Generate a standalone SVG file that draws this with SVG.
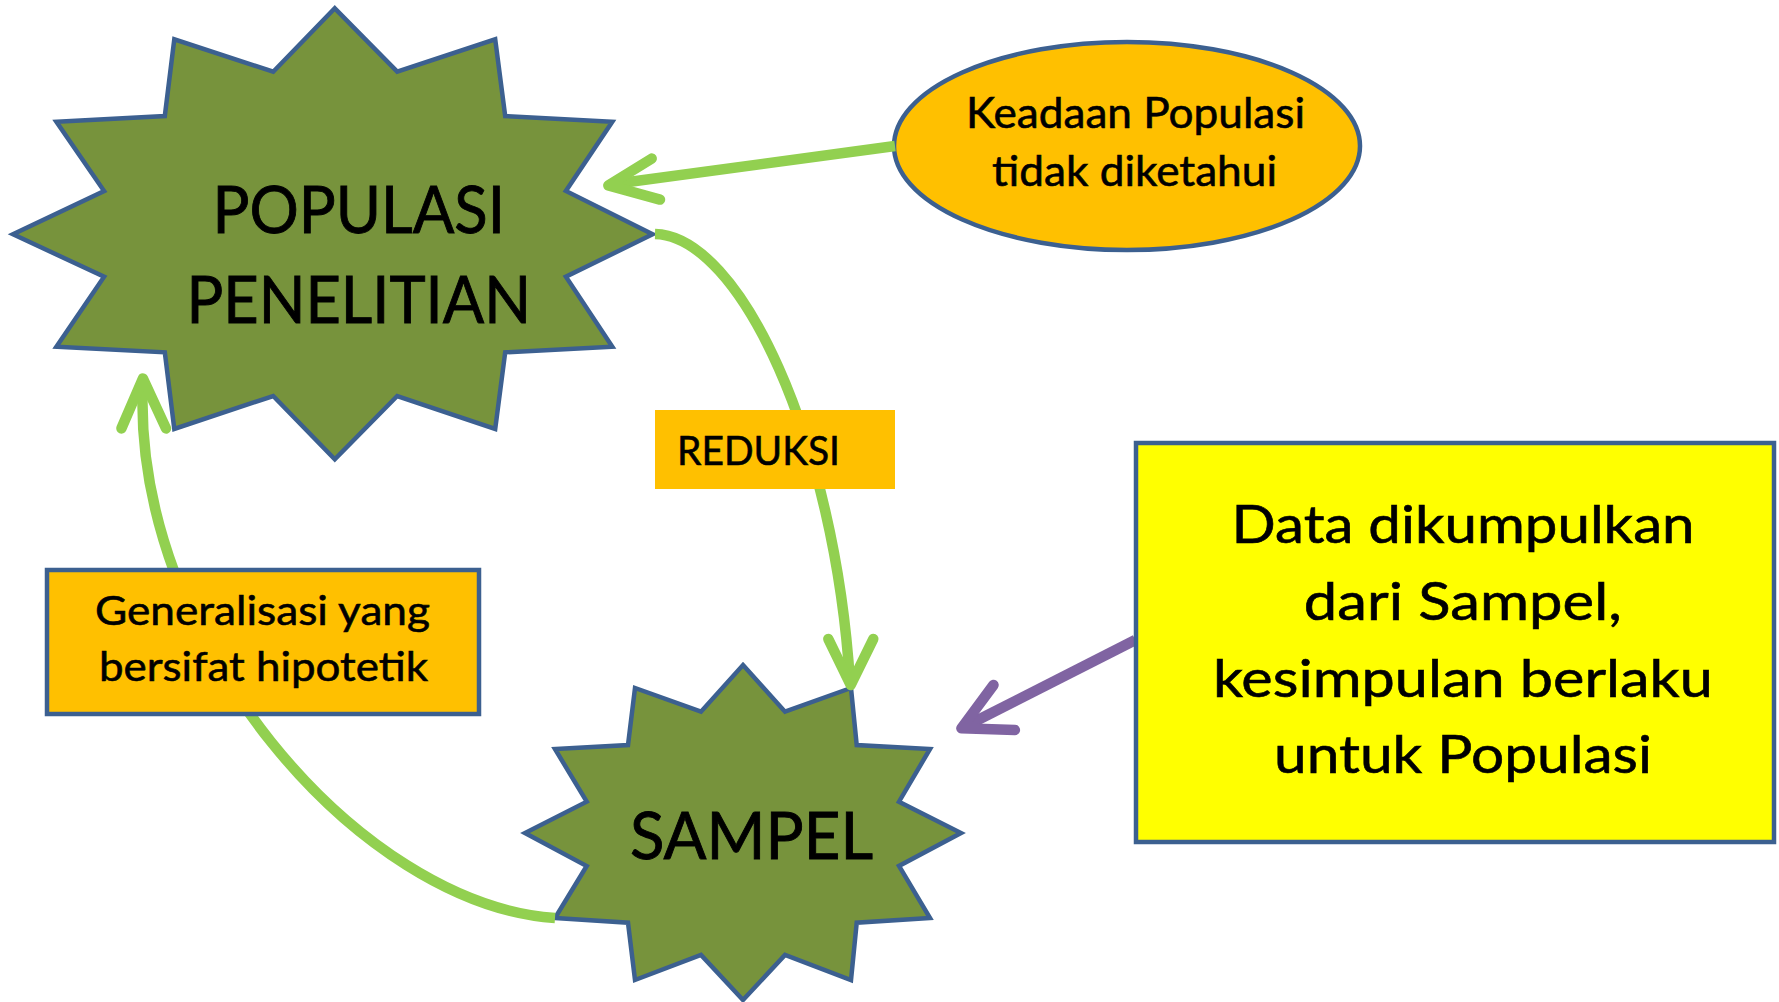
<svg xmlns="http://www.w3.org/2000/svg" width="1779" height="1002" viewBox="0 0 1779 1002">
<style>
.star{fill:#77933C;stroke:#3C6090;stroke-width:4.5;stroke-linejoin:miter}
.orange{fill:#FFC000}
.box{stroke:#3C6090;stroke-width:4.5}
.yel{fill:#FFFF00;stroke:#3C6090;stroke-width:4.5}
.g{fill:none;stroke:#92D050;stroke-width:10.5;stroke-linecap:round;stroke-linejoin:round}
.gs{fill:none;stroke:#92D050;stroke-width:10.5;stroke-linecap:butt}
.p{fill:none;stroke:#8064A2;stroke-width:10.5;stroke-linecap:round;stroke-linejoin:round}
.ps{fill:none;stroke:#8064A2;stroke-width:10.5;stroke-linecap:butt}
text{font-family:Lato,"Liberation Sans",sans-serif;fill:#000;stroke:#000;stroke-width:0.9}
text.s{stroke-width:0.6}
</style>
<rect width="1779" height="1002" fill="#fff"/>
<g id="populasi">
<polygon class="star" points="334.8,8.3 397.2,71.7 495.2,39.3 505.2,116 612.3,121.7 565.9,191 652.6,234.3 565.9,276.7 612.3,346.7 505.2,352.3 495.2,429 397.2,396 334.8,459.3 273.2,396 174.3,429 164.8,352.3 56.4,346.7 104.1,276.7 13,234.3 104.1,191 56.4,121.7 164.8,116 174.3,39.3 273.2,71.7"/>
<text x="212.5" y="233" font-size="65" textLength="292.5" lengthAdjust="spacingAndGlyphs">POPULASI</text>
<text x="186.5" y="322.7" font-size="65" textLength="344.5" lengthAdjust="spacingAndGlyphs">PENELITIAN</text>
</g>
<g id="sampel">
<polygon class="star" points="743,665 785,711.7 851,688 856.7,745 930,749 899,801.7 961,833 899,866 930,918 856.7,922.7 851,980 785,955 743,1000 701,955 635,980 628,922.7 555,918 586.7,866 525,833 586.7,801.7 555,749 628,745 635,688 701,711.7"/>
<text x="630" y="859" font-size="65" textLength="243" lengthAdjust="spacingAndGlyphs">SAMPEL</text>
</g>
<g id="keadaan">
<ellipse class="orange box" cx="1127" cy="146" rx="233" ry="104"/>
<text class="s" x="966" y="128" font-size="42" textLength="339" lengthAdjust="spacingAndGlyphs">Keadaan Populasi</text>
<text class="s" x="992" y="186" font-size="42" textLength="285" lengthAdjust="spacingAndGlyphs">tidak diketahui</text>
</g>
<g id="connectors">
<line class="gs" x1="895" y1="146" x2="610" y2="184.5"/>
<polyline class="g" points="651.7,158.6 608.3,185.4 660,199.6"/>
<path class="gs" d="M655,234 C740,236 835,440 850,683"/>
<polyline class="g" points="828.3,639 850.7,685 873.3,639"/>
<path class="gs" d="M555,918 C360,905 130,640 143,381"/>
<polyline class="g" points="121.4,428.4 142.9,378.5 166,428.4"/>
<line class="ps" x1="1135.3" y1="640" x2="963" y2="727.5"/>
<polyline class="p" points="993.5,685 961.4,728.3 1014.9,730"/>
</g>
<g id="reduksi">
<rect class="orange" x="655" y="410" width="240" height="79"/>
<text class="s" x="677" y="464.5" font-size="41" textLength="163" lengthAdjust="spacingAndGlyphs">REDUKSI</text>
</g>
<g id="generalisasi">
<rect class="orange box" x="47" y="570" width="432" height="144"/>
<text class="s" x="95" y="624.5" font-size="41" textLength="335" lengthAdjust="spacingAndGlyphs">Generalisasi yang</text>
<text class="s" x="99" y="681" font-size="41" textLength="329" lengthAdjust="spacingAndGlyphs">bersifat hipotetik</text>
</g>
<g id="data">
<rect class="yel" x="1136" y="443" width="638" height="399"/>
<text class="s" x="1231.6" y="543.3" font-size="53" textLength="463" lengthAdjust="spacingAndGlyphs">Data dikumpulkan</text>
<text class="s" x="1303.8" y="620" font-size="53" textLength="318" lengthAdjust="spacingAndGlyphs">dari Sampel,</text>
<text class="s" x="1212.9" y="696.7" font-size="53" textLength="500" lengthAdjust="spacingAndGlyphs">kesimpulan berlaku</text>
<text class="s" x="1274" y="773.3" font-size="53" textLength="378" lengthAdjust="spacingAndGlyphs">untuk Populasi</text>
</g>
</svg>
